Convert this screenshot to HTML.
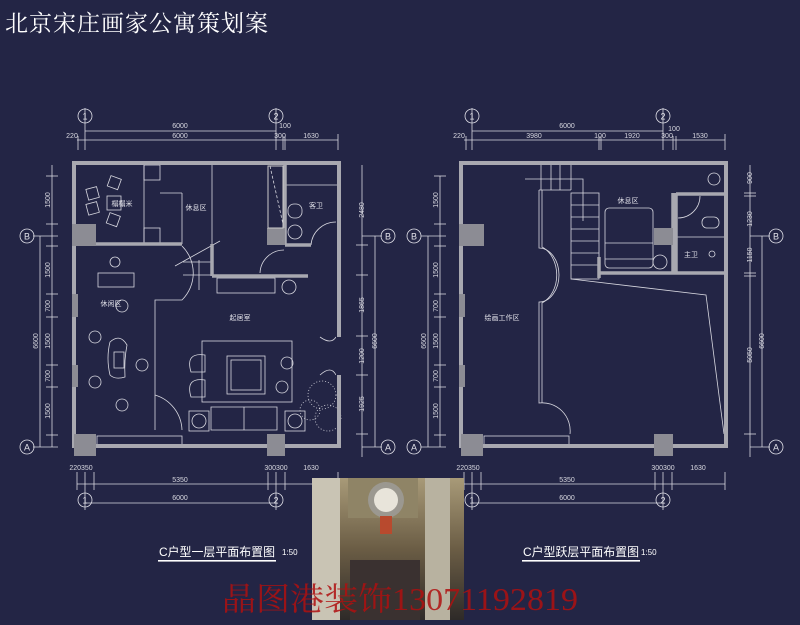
<!DOCTYPE html>
<html><head><meta charset="utf-8"><style>
html,body{margin:0;padding:0;background:#232545;}
svg{display:block}
text{font-family:"Liberation Sans","Noto Sans CJK SC",sans-serif;}
</style></head><body>
<svg width="800" height="625" viewBox="0 0 800 625" xmlns="http://www.w3.org/2000/svg">
<rect width="800" height="625" fill="#232545"/>
<text x="5" y="31" font-size="23" fill="#fff" style="font-family:'Noto Serif CJK SC',serif" letter-spacing="1">北京宋庄画家公寓策划案</text>

<g stroke="#d8d8e0" stroke-width="0.8" fill="none">
<line x1="85" y1="108" x2="85" y2="150"/><line x1="276" y1="108" x2="276" y2="150"/>
<line x1="85" y1="131" x2="276" y2="131"/>
<line x1="77" y1="140" x2="338" y2="140"/>
<line x1="78" y1="136" x2="78" y2="150"/><line x1="283" y1="136" x2="283" y2="150"/><line x1="285" y1="136" x2="285" y2="150"/><line x1="338" y1="134" x2="338" y2="150"/>
<line x1="52" y1="165" x2="52" y2="447"/><line x1="40" y1="236" x2="40" y2="447"/>
<line x1="46" y1="176" x2="58" y2="176"/><line x1="46" y1="224" x2="58" y2="224"/><line x1="46" y1="246" x2="58" y2="246"/><line x1="46" y1="294" x2="58" y2="294"/><line x1="46" y1="317" x2="58" y2="317"/><line x1="46" y1="365" x2="58" y2="365"/><line x1="46" y1="387" x2="58" y2="387"/><line x1="46" y1="435" x2="58" y2="435"/>
<line x1="33" y1="236" x2="58" y2="236"/><line x1="33" y1="447" x2="58" y2="447"/>
<line x1="362" y1="165" x2="362" y2="457"/><line x1="375" y1="236" x2="375" y2="447"/>
<line x1="356" y1="245" x2="368" y2="245"/><line x1="356" y1="275" x2="368" y2="275"/><line x1="356" y1="336" x2="368" y2="336"/><line x1="356" y1="375" x2="368" y2="375"/><line x1="356" y1="434" x2="368" y2="434"/>
<line x1="362" y1="236" x2="382" y2="236"/><line x1="362" y1="447" x2="382" y2="447"/>
<line x1="77" y1="484" x2="338" y2="484"/><line x1="85" y1="503" x2="276" y2="503"/>
<line x1="77" y1="472" x2="77" y2="490"/><line x1="85" y1="472" x2="85" y2="510"/><line x1="94" y1="472" x2="94" y2="490"/><line x1="268" y1="472" x2="268" y2="490"/><line x1="276" y1="472" x2="276" y2="510"/><line x1="285" y1="472" x2="285" y2="490"/><line x1="338" y1="472" x2="338" y2="490"/>
<line x1="144" y1="165" x2="144" y2="244"/><line x1="160" y1="193" x2="182" y2="193"/><line x1="182" y1="193" x2="182" y2="244"/>
<line x1="212" y1="165" x2="212" y2="245"/>
<path d="M182 246 A38 38 0 0 1 182 300 L155 300 L155 430"/>
<path d="M182 430 A38 38 0 0 0 155 395"/>
<line x1="175" y1="266" x2="220" y2="241"/><line x1="199" y1="260" x2="199" y2="290"/>
<line x1="183" y1="262" x2="212" y2="262"/><line x1="183" y1="275" x2="212" y2="275"/>
<rect x="98" y="273" width="36" height="14"/>
<circle cx="115" cy="262" r="5"/><circle cx="122" cy="306" r="6"/><circle cx="95" cy="337" r="6"/><circle cx="142" cy="365" r="6"/><circle cx="95" cy="382" r="6"/><circle cx="122" cy="405" r="6"/>
<path d="M110 342 Q120 333 127 345 Q124 360 125 377 Q115 380 110 375 Q106 358 110 342Z"/>
<rect x="114" y="352" width="10" height="16"/>
<rect x="202" y="341" width="90" height="61"/>
<rect x="227" y="356" width="38" height="38"/><rect x="231" y="360" width="30" height="30"/>
<circle cx="287" cy="363" r="6"/><circle cx="282" cy="387" r="6"/>
<path d="M191 372 Q185 352 205 355 L205 372Z"/><path d="M191 397 Q185 377 205 380 L205 397Z"/>
<rect x="189" y="411" width="20" height="20"/><circle cx="199" cy="421" r="7"/>
<rect x="285" y="411" width="20" height="20"/><circle cx="295" cy="421" r="7"/>
<path d="M211 407 L277 407 L277 430 L211 430Z"/><line x1="244" y1="407" x2="244" y2="430"/>
<rect x="217" y="278" width="58" height="15"/>
<circle cx="289" cy="287" r="7"/>
<path d="M311 245 A25 25 0 0 1 336 222"/><path d="M260 273 A24 24 0 0 1 284 250"/>
<path d="M320 337 Q331 345 336 337 M320 375 Q331 365 336 375"/>
<rect x="288" y="204" width="14" height="14" rx="6"/><circle cx="295" cy="232" r="7"/>
<line x1="285" y1="185" x2="338" y2="185"/>
<g stroke-dasharray="1 2"><circle cx="322" cy="395" r="14"/><circle cx="310" cy="410" r="10"/><circle cx="328" cy="418" r="13"/></g>
<rect x="107" y="196" width="14" height="14"/>
<rect x="109" y="177" width="11" height="11" transform="rotate(20 114 182)"/><rect x="87" y="188" width="11" height="11" transform="rotate(-15 92 193)"/><rect x="87" y="203" width="11" height="11" transform="rotate(-15 92 208)"/><rect x="108" y="214" width="11" height="11" transform="rotate(20 113 219)"/>
<rect x="144" y="165" width="16" height="15"/><rect x="144" y="228" width="16" height="15"/>
<rect x="97" y="436" width="85" height="10"/>
<g stroke-dasharray="3 2"><line x1="270" y1="166" x2="283" y2="224"/></g>
<line x1="472" y1="108" x2="472" y2="150"/><line x1="663" y1="108" x2="663" y2="150"/>
<line x1="472" y1="131" x2="663" y2="131"/>
<line x1="464" y1="140" x2="725" y2="140"/>
<line x1="466" y1="136" x2="466" y2="150"/><line x1="599" y1="136" x2="599" y2="150"/><line x1="601" y1="136" x2="601" y2="150"/><line x1="673" y1="136" x2="673" y2="150"/><line x1="676" y1="136" x2="676" y2="150"/><line x1="725" y1="134" x2="725" y2="150"/>
<line x1="440" y1="176" x2="440" y2="447"/><line x1="428" y1="236" x2="428" y2="447"/>
<line x1="434" y1="176" x2="446" y2="176"/><line x1="434" y1="224" x2="446" y2="224"/><line x1="434" y1="246" x2="446" y2="246"/><line x1="434" y1="294" x2="446" y2="294"/><line x1="434" y1="317" x2="446" y2="317"/><line x1="434" y1="365" x2="446" y2="365"/><line x1="434" y1="387" x2="446" y2="387"/><line x1="434" y1="435" x2="446" y2="435"/>
<line x1="421" y1="236" x2="446" y2="236"/><line x1="421" y1="447" x2="446" y2="447"/>
<line x1="750" y1="165" x2="750" y2="457"/><line x1="762" y1="236" x2="762" y2="447"/>
<line x1="744" y1="193" x2="756" y2="193"/><line x1="744" y1="196" x2="756" y2="196"/><line x1="744" y1="273" x2="756" y2="273"/><line x1="744" y1="276" x2="756" y2="276"/><line x1="744" y1="434" x2="756" y2="434"/>
<line x1="750" y1="236" x2="770" y2="236"/><line x1="750" y1="447" x2="770" y2="447"/>
<line x1="464" y1="484" x2="725" y2="484"/><line x1="472" y1="503" x2="663" y2="503"/>
<line x1="464" y1="472" x2="464" y2="490"/><line x1="472" y1="472" x2="472" y2="510"/><line x1="481" y1="472" x2="481" y2="490"/><line x1="655" y1="472" x2="655" y2="490"/><line x1="663" y1="472" x2="663" y2="510"/><line x1="672" y1="472" x2="672" y2="490"/><line x1="725" y1="472" x2="725" y2="490"/>
<line x1="541" y1="165" x2="541" y2="190"/><line x1="551" y1="165" x2="551" y2="190"/><line x1="560" y1="165" x2="560" y2="190"/><line x1="571" y1="165" x2="571" y2="190"/>
<rect x="571" y="193" width="28" height="86"/>
<line x1="571" y1="205" x2="599" y2="205"/><line x1="571" y1="217" x2="599" y2="217"/><line x1="571" y1="229" x2="599" y2="229"/><line x1="571" y1="241" x2="599" y2="241"/><line x1="571" y1="253" x2="599" y2="253"/><line x1="571" y1="265" x2="599" y2="265"/>
<polyline points="525,179 583,179 583,221"/>
<path d="M539 190 L571 190 M539 190 L539 248 A20 27 0 0 1 539 302 L539 403 A28 28 0 0 1 570 434"/>
<path d="M542 190 L542 247 A23 30 0 0 1 542 303 L542 403"/>
<polyline points="571,279 706,295 724,434"/>
<rect x="605" y="208" width="48" height="60" rx="4"/><line x1="605" y1="243" x2="653" y2="243"/><line x1="605" y1="259" x2="653" y2="259"/>
<circle cx="660" cy="262" r="7"/>
<line x1="676" y1="237" x2="725" y2="237"/>
<path d="M678 218 A22 22 0 0 0 700 196"/>
<rect x="702" y="217" width="17" height="11" rx="5"/>
<circle cx="714" cy="179" r="6"/><circle cx="712" cy="254" r="3"/>
<rect x="484" y="436" width="85" height="10"/>
</g>

<g fill="none" stroke="#a8a8b0" stroke-width="4">
<rect x="74" y="163" width="265" height="283"/>
<rect x="461" y="163" width="265" height="283"/>
</g>
<g stroke="#a8a8b0" stroke-width="3.5">
<line x1="96" y1="244" x2="182" y2="244"/><line x1="212" y1="244" x2="212" y2="276"/><line x1="212" y1="276" x2="308" y2="276"/>
<line x1="285" y1="163" x2="285" y2="245"/><line x1="285" y1="245" x2="311" y2="245"/>
<line x1="599" y1="273" x2="726" y2="273"/><line x1="673" y1="193" x2="673" y2="273"/><line x1="676" y1="193" x2="676" y2="273"/><line x1="676" y1="194" x2="726" y2="194"/>
<line x1="599" y1="257" x2="599" y2="278"/>
</g>
<rect x="336" y="337" width="8" height="38" fill="#232545"/>
<g fill="#8c8c94">
<rect x="72" y="224" width="24" height="22"/><rect x="74" y="434" width="22" height="22"/><rect x="267" y="434" width="18" height="22"/><rect x="267" y="228" width="18" height="17"/>
<rect x="72" y="294" width="6" height="23"/><rect x="72" y="365" width="6" height="22"/>
<rect x="459" y="224" width="25" height="22"/><rect x="461" y="434" width="22" height="22"/><rect x="654" y="434" width="19" height="22"/><rect x="654" y="228" width="19" height="17"/>
<rect x="459" y="294" width="6" height="23"/><rect x="459" y="365" width="6" height="22"/>
<rect x="268" y="166" width="15" height="62" fill="none" stroke="#ccc"/>
</g>

<g fill="#d8d8e0" font-size="7" text-anchor="middle">
<text x="180" y="128">6000</text><text x="180" y="138">6000</text><text x="72" y="138">220</text><text x="285" y="128">100</text><text x="280" y="138">300</text><text x="311" y="138">1630</text>
<text x="567" y="128">6000</text><text x="534" y="138">3980</text><text x="600" y="138">100</text><text x="632" y="138">1920</text><text x="667" y="138">300</text><text x="674" y="131">100</text><text x="700" y="138">1530</text><text x="459" y="138">220</text>
<text x="180" y="482">5350</text><text x="180" y="500">6000</text><text x="81" y="470">220350</text><text x="276" y="470">300300</text><text x="311" y="470">1630</text>
<text x="567" y="482">5350</text><text x="567" y="500">6000</text><text x="468" y="470">220350</text><text x="663" y="470">300300</text><text x="698" y="470">1630</text>
</g>
<g fill="#d8d8e0" font-size="7" text-anchor="middle">
<text transform="translate(50,200) rotate(-90)">1500</text><text transform="translate(50,270) rotate(-90)">1500</text><text transform="translate(50,306) rotate(-90)">700</text><text transform="translate(50,341) rotate(-90)">1500</text><text transform="translate(50,376) rotate(-90)">700</text><text transform="translate(50,411) rotate(-90)">1500</text><text transform="translate(38,341) rotate(-90)">6600</text>
<text transform="translate(364,210) rotate(-90)">2480</text><text transform="translate(364,305) rotate(-90)">1865</text><text transform="translate(364,356) rotate(-90)">1200</text><text transform="translate(364,404) rotate(-90)">1925</text><text transform="translate(377,341) rotate(-90)">6600</text>
<text transform="translate(438,200) rotate(-90)">1500</text><text transform="translate(438,270) rotate(-90)">1500</text><text transform="translate(438,306) rotate(-90)">700</text><text transform="translate(438,341) rotate(-90)">1500</text><text transform="translate(438,376) rotate(-90)">700</text><text transform="translate(438,411) rotate(-90)">1500</text><text transform="translate(426,341) rotate(-90)">6600</text>
<text transform="translate(752,178) rotate(-90)">900</text><text transform="translate(752,219) rotate(-90)">1230</text><text transform="translate(752,255) rotate(-90)">1150</text><text transform="translate(752,355) rotate(-90)">5050</text><text transform="translate(764,341) rotate(-90)">6600</text>
</g>
<g fill="#e0e0e8" font-size="7" text-anchor="middle">
<text x="122" y="206">榻榻米</text><text x="196" y="210">休息区</text><text x="316" y="208">客卫</text><text x="111" y="306">休闲区</text><text x="240" y="320">起居室</text>
<text x="628" y="203">休息区</text><text x="691" y="257">主卫</text><text x="502" y="320">绘画工作区</text>
</g>
<g fill="none" stroke="#e0e0e8" stroke-width="0.8">
<circle cx="85" cy="116" r="7"/><circle cx="276" cy="116" r="7"/><circle cx="27" cy="236" r="7"/><circle cx="27" cy="447" r="7"/><circle cx="388" cy="236" r="7"/><circle cx="388" cy="447" r="7"/>
<circle cx="85" cy="500" r="7"/><circle cx="276" cy="500" r="7"/>
<circle cx="472" cy="116" r="7"/><circle cx="663" cy="116" r="7"/><circle cx="414" cy="236" r="7"/><circle cx="414" cy="447" r="7"/><circle cx="776" cy="236" r="7"/><circle cx="776" cy="447" r="7"/>
<circle cx="472" cy="500" r="7"/><circle cx="663" cy="500" r="7"/>
</g>
<g fill="#e0e0e8" font-size="9" text-anchor="middle">
<text x="85" y="119.5">1</text><text x="276" y="119.5">2</text><text x="27" y="239.5">B</text><text x="27" y="450.5">A</text><text x="388" y="239.5">B</text><text x="388" y="450.5">A</text>
<text x="85" y="503.5">1</text><text x="276" y="503.5">2</text>
<text x="472" y="119.5">1</text><text x="663" y="119.5">2</text><text x="414" y="239.5">B</text><text x="414" y="450.5">A</text><text x="776" y="239.5">B</text><text x="776" y="450.5">A</text>
<text x="472" y="503.5">1</text><text x="663" y="503.5">2</text>
</g>

<defs><linearGradient id="pg" x1="0" y1="0" x2="0" y2="1"><stop offset="0" stop-color="#a89a78"/><stop offset="0.5" stop-color="#6b5d45"/><stop offset="1" stop-color="#2e2a28"/></linearGradient></defs>
<rect x="312" y="478" width="152" height="142" fill="url(#pg)"/>
<rect x="312" y="478" width="28" height="142" fill="#c9c4b4"/><rect x="425" y="478" width="25" height="142" fill="#b8b2a0"/>
<rect x="348" y="478" width="70" height="40" fill="#8f8466"/>
<circle cx="386" cy="500" r="18" fill="#9b9890"/><circle cx="386" cy="500" r="12" fill="#e8e4da"/>
<rect x="380" y="516" width="12" height="18" fill="#b84a2e"/>
<rect x="350" y="560" width="70" height="60" fill="#3a3130"/>

<g fill="#fff" font-size="12" style="font-family:'Noto Serif CJK SC',serif">
<text x="159" y="556" textLength="116" lengthAdjust="spacingAndGlyphs">C户型一层平面布置图</text><text x="523" y="556" textLength="116" lengthAdjust="spacingAndGlyphs">C户型跃层平面布置图</text>
</g>
<g fill="#fff" font-size="8" style="font-family:'Liberation Serif',serif"><text x="282" y="555">1:50</text><text x="641" y="555">1:50</text></g>
<rect x="158" y="560" width="118" height="1.6" fill="#fff"/><rect x="522" y="560" width="118" height="1.6" fill="#fff"/>
<text x="222" y="610" font-size="32" fill="#b01010" textLength="356" lengthAdjust="spacingAndGlyphs" style="font-family:'Liberation Serif','Noto Serif CJK SC',serif" opacity="0.85">晶图港装饰13071192819</text>
</svg>
</body></html>
